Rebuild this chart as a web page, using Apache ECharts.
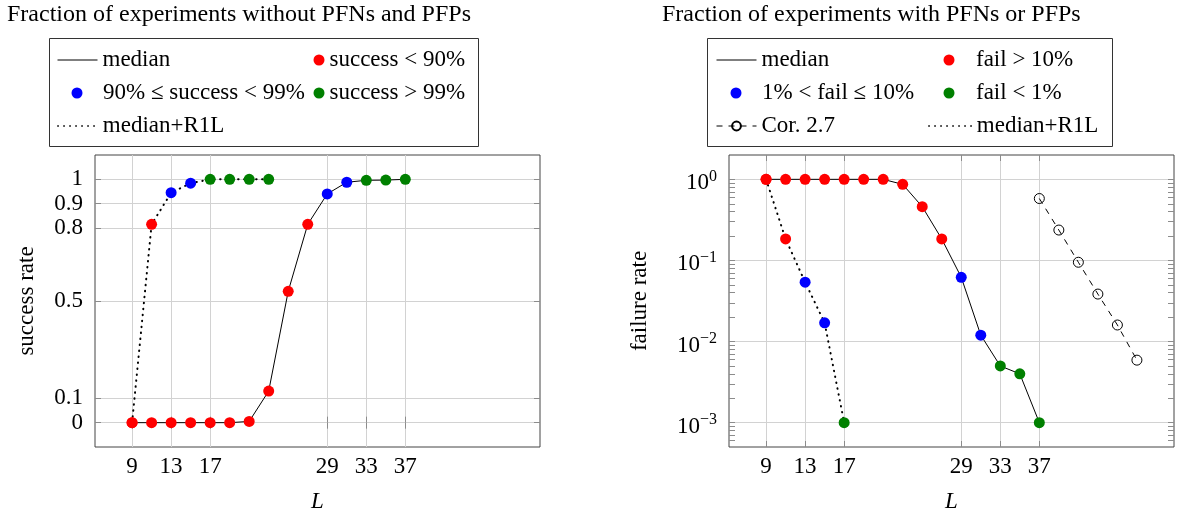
<!DOCTYPE html>
<html>
<head>
<meta charset="utf-8">
<script src="https://cdn.jsdelivr.net/npm/echarts@6/dist/echarts.min.js"></script>
<style>
  html, body { margin: 0; padding: 0; background: #fff; }
  #main { width: 1181px; height: 514px; }
</style>
</head>
<body>
<div id="main"></div>
<script>
// ---- data ----
const lMedian = [9, 11, 13, 15, 17, 19, 21, 23, 25, 27, 29, 31, 33, 35, 37];
const lR1LSucc = [9, 11, 13, 15, 17, 19, 21, 23];
const lR1LFail = [9, 11, 13, 15, 17];
const lCor = [37, 39, 41, 43, 45, 47];

// left: success rate
const succMedian = [0, 0, 0, 0, 0, 0, 0.005, 0.13, 0.54, 0.815, 0.94, 0.988, 0.996, 0.997, 1.0];
const succR1L = [0, 0.815, 0.945, 0.984, 1.0, 1.0, 1.0, 1.0];

// right: failure rate
const failMedian = [1, 1, 1, 1, 1, 1, 1, 0.867, 0.46, 0.184, 0.062, 0.012, 0.005, 0.004, 0.001];
const failR1L = [1, 0.184, 0.054, 0.017, 0.001];
const failCor = [0.58, 0.237, 0.095, 0.0385, 0.016, 0.0059];

const xTicks = [9, 13, 17, 29, 33, 37];
const succTicks = [0, 0.1, 0.5, 0.8, 0.9, 1];
const failTicks = [0.001, 0.01, 0.1, 1];

const FONT = '"Liberation Serif", "DejaVu Serif", serif';
const RED = '#ff0000', BLUE = '#0000ff', GREEN = '#008000';

function pairs(xs, ys) { return xs.map((x, i) => [x, ys[i]]); }

// classify marks
const succAll = pairs(lMedian, succMedian).concat(pairs(lR1LSucc, succR1L));
const succRed = succAll.filter(p => p[1] < 0.9);
const succBlue = succAll.filter(p => p[1] >= 0.9 && p[1] < 0.99);
const succGreen = succAll.filter(p => p[1] >= 0.99);

const failAll = pairs(lMedian, failMedian).concat(pairs(lR1LFail, failR1L));
const failRed = failAll.filter(p => p[1] > 0.1);
const failBlue = failAll.filter(p => p[1] > 0.01 && p[1] <= 0.1);
const failGreen = failAll.filter(p => p[1] < 0.01);

// log minor ticks
const logMin = Math.pow(10, -3.3), logMax = Math.pow(10, 0.3);
const minorTicks = [];
for (let k = -4; k <= 0; k++) {
  for (let m = 2; m <= 9; m++) {
    const v = m * Math.pow(10, k);
    if (v >= logMin && v <= logMax) minorTicks.push(v);
  }
}
const allLogTicks = failTicks.concat(minorTicks);

const myChart = echarts.init(document.getElementById('main'));

const txt = { fontFamily: FONT, fontSize: 23, color: '#000' };
const tickStyle = { color: '#8c8c8c', width: 1 };
const gridLine = { show: true, lineStyle: { color: '#d2d2d2', width: 1 } };

function xAxisCfg(gridIndex, pos, main) {
  return {
    type: 'value', gridIndex: gridIndex, position: pos, min: 5.2, max: 50.8,
    axisLine: { show: false },
    axisTick: { show: true, inside: true, length: 6, lineStyle: tickStyle, customValues: xTicks },
    axisLabel: main ? Object.assign({ customValues: xTicks, margin: 8 }, txt) : { show: false },
    splitLine: main ? gridLine : { show: false },
    name: main ? 'L' : '', nameLocation: 'middle', nameGap: 43,
    nameTextStyle: Object.assign({ fontStyle: 'italic' }, txt)
  };
}

// line entries: no marker in the key
function legendLine(name, left, top, dotted) {
  return {
    data: [name], left: left, top: top, padding: 0, itemGap: 0,
    itemWidth: 40, itemHeight: 11, selectedMode: false,
    itemStyle: { color: 'rgba(0,0,0,0)', borderColor: 'rgba(0,0,0,0)', borderWidth: 0 },
    lineStyle: dotted ? { width: 1.6 } : { width: 1 },
    textStyle: Object.assign({ lineHeight: 26 }, txt)
  };
}
// marker entries
function legendDot(name, left, top, pad) {
  return {
    data: [name], left: left, top: top, padding: 0, itemGap: 0,
    itemWidth: 11, itemHeight: 11, selectedMode: false,
    textStyle: Object.assign({ lineHeight: 26, padding: [0, 0, 0, pad] }, txt)
  };
}

const option = {
  animation: false,
  backgroundColor: '#fff',
  title: [
    { text: 'Fraction of experiments without PFNs and PFPs', left: 7, top: 3, padding: 0,
      textStyle: Object.assign({}, txt, { fontWeight: 'normal', fontSize: 24 }) },
    { text: 'Fraction of experiments with PFNs or PFPs', left: 662, top: 3, padding: 0,
      textStyle: Object.assign({}, txt, { fontWeight: 'normal', fontSize: 24 }) }
  ],
  legend: [
    legendLine('median', 57, 47, false),
    legendDot('success < 90%', 313.5, 47, 0),
    legendDot('90% ≤ success < 99%', 71.5, 80, 15.5),
    legendDot('success > 99%', 313.5, 80, 0),
    legendLine('median+R1L', 57, 113, true),

    legendLine('median', 716, 47, false),
    legendDot('fail > 10%', 943.5, 47, 16.5),
    legendDot('1% < fail ≤ 10%', 730.5, 80, 15.5),
    legendDot('fail < 1%', 943.5, 80, 16.5),
    {
      data: ['Cor. 2.7'], left: 716, top: 113, padding: 0, itemGap: 0,
      itemWidth: 40, itemHeight: 11, selectedMode: false,
      lineStyle: { width: 1 },
      textStyle: Object.assign({ lineHeight: 26 }, txt)
    },
    Object.assign(legendLine('median+R1L', 928, 113, true), { itemWidth: 43 })
  ],
  graphic: [
    { type: 'rect', shape: { x: 49.5, y: 38.5, width: 429, height: 108 },
      style: { fill: 'none', stroke: '#333', lineWidth: 1 }, silent: true },
    { type: 'rect', shape: { x: 707.5, y: 38.5, width: 405, height: 108 },
      style: { fill: 'none', stroke: '#333', lineWidth: 1 }, silent: true }
  ],
  grid: [
    { left: 95, top: 155, width: 445, height: 292, show: true, borderColor: '#444', borderWidth: 1,
      containLabel: false, outerBoundsMode: 'none' },
    { left: 729, top: 155, width: 445, height: 292, show: true, borderColor: '#444', borderWidth: 1,
      containLabel: false, outerBoundsMode: 'none' }
  ],
  xAxis: [
    xAxisCfg(0, 'bottom', true),
    xAxisCfg(0, 'top', false),
    xAxisCfg(1, 'bottom', true),
    xAxisCfg(1, 'top', false)
  ],
  yAxis: [
    {
      type: 'value', gridIndex: 0, position: 'left', min: -0.1, max: 1.1,
      axisLine: { show: false },
      axisTick: { show: true, inside: true, length: 6, lineStyle: tickStyle, customValues: succTicks },
      axisLabel: Object.assign({ customValues: succTicks, margin: 12 }, txt),
      splitLine: gridLine,
      name: 'success rate', nameLocation: 'middle', nameGap: 57, nameTextStyle: txt
    },
    {
      type: 'value', gridIndex: 0, position: 'right', min: -0.1, max: 1.1,
      axisLine: { show: false },
      axisTick: { show: true, inside: true, length: 6, lineStyle: tickStyle, customValues: succTicks },
      axisLabel: { show: false }, splitLine: { show: false }
    },
    {
      type: 'log', gridIndex: 1, position: 'left', min: logMin, max: logMax, logBase: 10,
      axisLine: { show: false },
      axisTick: { show: true, inside: true, length: 6, lineStyle: tickStyle, customValues: failTicks },
      axisLabel: {
        customValues: failTicks, margin: 12, padding: [8, 0, 0, 0],
        formatter: function (v) {
          const e = Math.round(Math.log10(v));
          return '{b|10}{s|' + (e < 0 ? '\u2212' + (-e) : e) + '}';
        },
        rich: {
          b: { fontFamily: FONT, fontSize: 23, color: '#000', lineHeight: 30 },
          s: { fontFamily: FONT, fontSize: 16, color: '#000', lineHeight: 15, verticalAlign: 'top' }
        }
      },
      splitLine: gridLine,
      name: 'failure rate', nameLocation: 'middle', nameGap: 78, nameTextStyle: txt
    },
    {
      type: 'log', gridIndex: 1, position: 'left', min: logMin, max: logMax, logBase: 10,
      axisLine: { show: false },
      axisTick: { show: true, inside: true, length: 6, lineStyle: tickStyle, customValues: minorTicks },
      axisLabel: { show: false }, splitLine: { show: false }
    },
    {
      type: 'log', gridIndex: 1, position: 'right', min: logMin, max: logMax, logBase: 10,
      axisLine: { show: false },
      axisTick: { show: true, inside: true, length: 6, lineStyle: tickStyle, customValues: allLogTicks },
      axisLabel: { show: false }, splitLine: { show: false }
    }
  ],
  series: [
    // left chart
    { name: 'median', type: 'line', xAxisIndex: 0, yAxisIndex: 0, data: pairs(lMedian, succMedian),
      symbol: 'none', lineStyle: { color: '#000', width: 1 }, itemStyle: { color: '#000' }, z: 2 },
    { name: 'median+R1L', type: 'line', xAxisIndex: 0, yAxisIndex: 0, data: pairs(lR1LSucc, succR1L),
      symbol: 'none', lineStyle: { color: '#000', width: 2, type: [0.5, 5.5], cap: 'round' },
      itemStyle: { color: '#000' }, z: 2 },
    { name: 'success < 90%', type: 'scatter', xAxisIndex: 0, yAxisIndex: 0, data: succRed,
      symbol: 'circle', symbolSize: 11, itemStyle: { color: RED, opacity: 1 }, z: 5 },
    { name: '90% ≤ success < 99%', type: 'scatter', xAxisIndex: 0, yAxisIndex: 0, data: succBlue,
      symbol: 'circle', symbolSize: 11, itemStyle: { color: BLUE, opacity: 1 }, z: 5 },
    { name: 'success > 99%', type: 'scatter', xAxisIndex: 0, yAxisIndex: 0, data: succGreen,
      symbol: 'circle', symbolSize: 11, itemStyle: { color: GREEN, opacity: 1 }, z: 5 },

    // right chart
    { name: 'median', type: 'line', xAxisIndex: 2, yAxisIndex: 2, data: pairs(lMedian, failMedian),
      symbol: 'none', lineStyle: { color: '#000', width: 1 }, itemStyle: { color: '#000' }, z: 2 },
    { name: 'median+R1L', type: 'line', xAxisIndex: 2, yAxisIndex: 2, data: pairs(lR1LFail, failR1L),
      symbol: 'none', lineStyle: { color: '#000', width: 2, type: [0.5, 5.5], cap: 'round' },
      itemStyle: { color: '#000' }, z: 2 },
    { name: 'Cor. 2.7', type: 'line', xAxisIndex: 2, yAxisIndex: 2, data: pairs(lCor, failCor),
      symbol: 'circle', symbolSize: 10, showSymbol: true,
      lineStyle: { color: '#000', width: 1, type: [6, 6] },
      itemStyle: { color: 'rgba(0,0,0,0)', borderColor: '#000', borderWidth: 1 }, z: 3 },
    { name: 'fail > 10%', type: 'scatter', xAxisIndex: 2, yAxisIndex: 2, data: failRed,
      symbol: 'circle', symbolSize: 11, itemStyle: { color: RED, opacity: 1 }, z: 5 },
    { name: '1% < fail ≤ 10%', type: 'scatter', xAxisIndex: 2, yAxisIndex: 2, data: failBlue,
      symbol: 'circle', symbolSize: 11, itemStyle: { color: BLUE, opacity: 1 }, z: 5 },
    { name: 'fail < 1%', type: 'scatter', xAxisIndex: 2, yAxisIndex: 2, data: failGreen,
      symbol: 'circle', symbolSize: 11, itemStyle: { color: GREEN, opacity: 1 }, z: 5 }
  ]
};

myChart.setOption(option);
window.addEventListener('resize', function () {
  myChart.resize();
});
</script>
</body>
</html>
